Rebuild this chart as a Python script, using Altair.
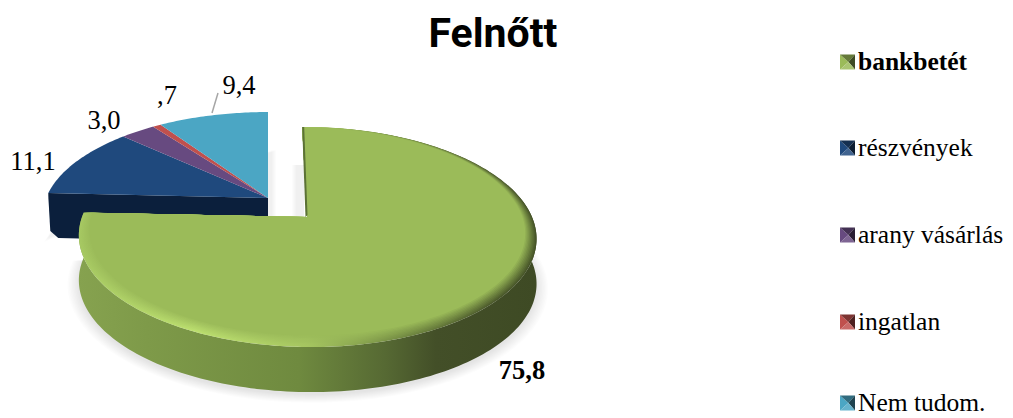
import numpy as np
import pandas as pd
import altair as alt

categories = ["bankbetét", "részvények", "arany vásárlás", "ingatlan", "Nem tudom."]
shares = [75.8, 11.1, 3.0, 0.7, 9.4]
value_labels = ["75,8", "11,1", "3,0", ",7", "9,4"]
top_colors = ["#9BBB59", "#1F497D", "#674A80", "#C0504D", "#4BA6C4"]
legend_rows = [62, 148, 235, 322, 403]
label_x = [522, 33, 104, 167, 239]
label_y = [371, 162, 121, 96, 86]

W, H = 997, 410
xs = alt.Scale(domain=[8, 8 + W], range=[0, W], nice=False, zero=False)
ys = alt.Scale(domain=[8 + H, 8], range=[H, 0], nice=False, zero=False)
K = 0.182


def project(theta, r, ax, ay, A, B, skew=0.0, rot=0.0):
    t = np.radians(np.asarray(theta, dtype=float) + rot)
    u, v = r * np.sin(t), r * np.cos(t)
    w = 1 + K * v
    X, Y = A * u / w, -B * v / w
    return ax + X + skew * Y, ay + Y


def poly(x, y, fill, opacity=1.0):
    df = pd.DataFrame({"x": x, "y": y, "i": np.arange(len(x))})
    return alt.Chart(df).mark_line(fill=fill, strokeWidth=0, opacity=opacity, interpolate="linear").encode(
        x=alt.X("x:Q", scale=xs, axis=None),
        y=alt.Y("y:Q", scale=ys, axis=None),
        order=alt.Order("i:Q"),
    )


def grad(stops):
    return {"gradient": "linear", "x1": 0, "y1": 0, "x2": 1, "y2": 0,
            "stops": [{"offset": o, "color": c} for o, c in stops]}


def mix(c1, c2, t):
    a = [int(c1[i:i + 2], 16) for i in (1, 3, 5)]
    b = [int(c2[i:i + 2], 16) for i in (1, 3, 5)]
    return "#%02x%02x%02x" % tuple(round(p + (q - p) * t) for p, q in zip(a, b))


edges = np.concatenate([[0], np.cumsum(shares)]) * 3.6
layers = []

G = dict(ax=307, ay=217, A=225, B=106.4, skew=0.035, rot=-0.5)
S = dict(ax=268, ay=198, A=222, B=101.6)
DEPTH = 45

# soft shadows
for k in range(9):
    f = 1 + 0.006 * k
    th = np.linspace(60, edges[1], 120)
    x, y = project(th, f, **G)
    layers.append(poly(np.r_[x, 306], np.r_[y + DEPTH + 3, 250], "#000000", 0.012))
th = np.linspace(edges[1], 300, 20)
x, y = project(th, 1.0, **S)
for k in range(5):
    layers.append(poly(np.r_[x - k, 272 + k, 272 + k], np.r_[y + DEPTH + k, 240, 150], "#000000", 0.012))
for k in range(5):
    layers.append(poly([296 - k, 304, 304, 296 - k], [165, 165, 217, 217], "#000000", 0.012))

# rim of the small slices
cx, cy = project(edges[1], 1.0, **S)
layers.append(poly([S["ax"], S["ax"], cx + 10, cx + 2, cx, cx], [S["ay"], S["ay"] + DEPTH, cy + DEPTH, cy + DEPTH - 7, cy + 3, cy],
                   "#0B1F3C"))

# top faces of the small slices
for i in range(1, 5):
    th = np.linspace(edges[i], edges[i + 1], 40)
    x, y = project(th, 1.0, **S)
    layers.append(poly(np.r_[S["ax"], x], np.r_[S["ay"], y], top_colors[i]))

# rim of the big slice
th = np.linspace(72, edges[1], 160)
x, y = project(th, 1.0, **G)
layers.append(poly(np.r_[x, x[::-1]], np.r_[y, (y + DEPTH)[::-1]], grad([
    (0, "#86A24F"), (0.15, "#7E9A49"), (0.48, "#6F8A3F"), (0.67, "#566933"),
    (0.78, "#434F28"), (1, "#3E4A24")])))

# top face of the big slice with a bevel towards the rim
edge_stops = [(0, "#A6C862"), (0.25, "#BDE070"), (0.5, "#A6C661"), (0.72, "#6F8640"), (0.9, "#4C5A2C"), (1, "#465428")]
base = top_colors[0]
th = np.linspace(0, edges[1], 300)
for t in np.linspace(1, 0, 10):
    r = 1 - 0.07 * (1 - t) * (0.6 - 0.45 * np.cos(np.radians(th)))
    x, y = project(th, r, **G)
    fill = grad([(o, mix(base, c, t)) for o, c in edge_stops]) if t > 0 else base
    layers.append(poly(np.r_[G["ax"], x], np.r_[G["ay"], y], fill))

# thin dark edge along the start of the cut
x0, y0 = project(0, 1.0, **G)
layers.append(poly([x0, x0 + 2, G["ax"] + 0.5, G["ax"] - 1.5], [y0, y0, G["ay"] - 2, G["ay"]], "#5C7236"))

# leader line
lead = pd.DataFrame({"x": [218], "x2": [212], "y": [93], "y2": [113]})
layers.append(alt.Chart(lead).mark_rule(color="#A6A6A6", strokeWidth=1.5).encode(
    x=alt.X("x:Q", scale=xs, axis=None), x2="x2:Q",
    y=alt.Y("y:Q", scale=ys, axis=None), y2="y2:Q"))

# value labels
lab = pd.DataFrame({"x": label_x, "y": label_y, "t": value_labels, "w": ["bold"] + ["normal"] * 4})
for weight, g in lab.groupby("w"):
    layers.append(alt.Chart(g).mark_text(font="Liberation Serif", fontSize=26.5, fontWeight=weight, color="#000000").encode(
        x=alt.X("x:Q", scale=xs, axis=None), y=alt.Y("y:Q", scale=ys, axis=None), text="t:N"))

# legend markers (bevelled squares) and text
for c, row in zip(top_colors, legend_rows):
    l, r, t, b = 840, 855, row - 7.5, row + 7.5
    m, n = 848.5, row
    layers.append(poly([l, m, l], [t, n, b], c))
    layers.append(poly([l, r, m], [t, t, n], mix(c, "#000000", 0.35)))
    layers.append(poly([r, r, m], [t, b, n], mix(c, "#000000", 0.6)))
    layers.append(poly([l, r, m], [b, b, n], mix(c, "#FFFFFF", 0.15)))

leg = pd.DataFrame({"x": [858] * 5, "y": legend_rows, "t": categories, "w": ["bold"] + ["normal"] * 4})
for weight, g in leg.groupby("w"):
    layers.append(alt.Chart(g).mark_text(font="Liberation Serif", fontSize=25.5, fontWeight=weight, align="left", color="#000000").encode(
        x=alt.X("x:Q", scale=xs, axis=None), y=alt.Y("y:Q", scale=ys, axis=None), text="t:N"))

# title
title = pd.DataFrame({"x": [493], "y": [35], "t": ["Felnőtt"]})
layers.append(alt.Chart(title).mark_text(font="Roboto", fontSize=41, fontWeight="bold", color="#000000").encode(
    x=alt.X("x:Q", scale=xs, axis=None), y=alt.Y("y:Q", scale=ys, axis=None), text="t:N"))

chart = alt.layer(*layers).properties(
    width=W, height=H, padding=0, autosize=alt.AutoSizeParams(type="none"),
).configure_view(stroke=None)

chart.save("out.html", embed_options={"renderer": "svg", "actions": False})
